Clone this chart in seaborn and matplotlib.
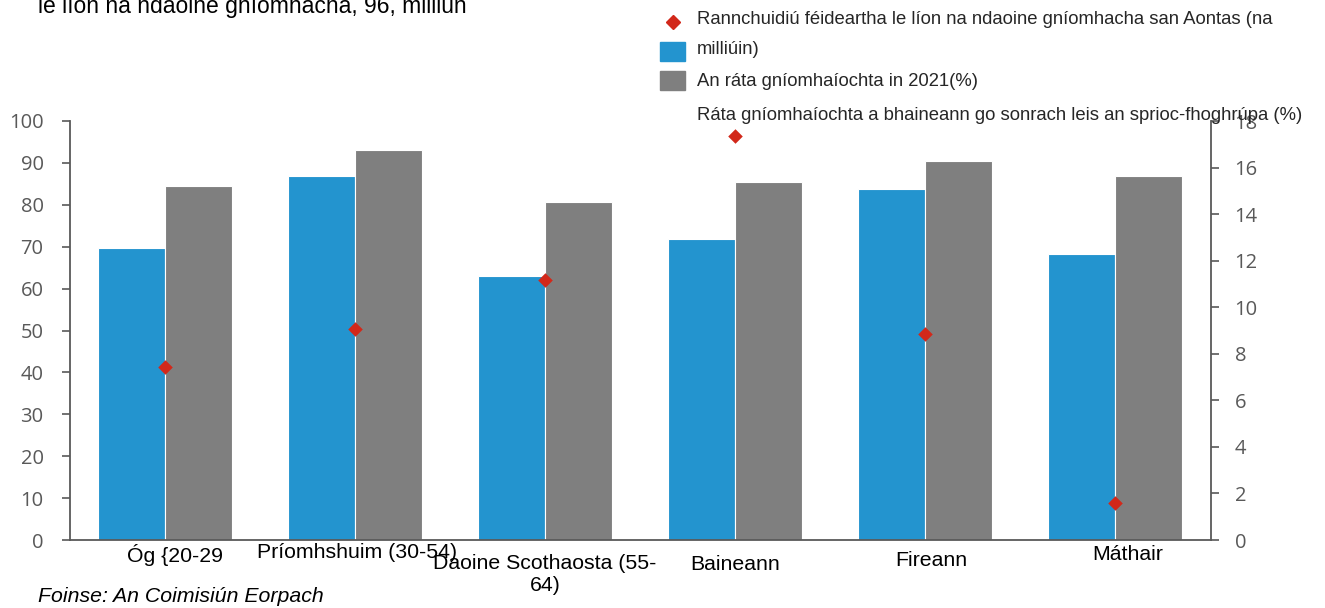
import numpy as np
import pandas as pd
import matplotlib
matplotlib.use("Agg")
import matplotlib.pyplot as plt
from matplotlib.patches import Rectangle
from matplotlib.lines import Line2D
import matplotlib.transforms as mtransforms
import seaborn as sns

categories = ["Óg {20-29", "Príomhshuim (30-54)", "Daoine Scothaosta (55-\n64)",
              "Baineann", "Fireann", "Máthair"]
rate_target = [69.7, 86.9, 63.0, 71.8, 83.8, 68.3]      # blue
rate_2021 = [84.5, 93.1, 80.7, 85.4, 90.5, 86.9]        # gray
contribution = [7.43, 9.06, 11.17, 17.35, 8.85, 1.59]   # red diamonds (right axis)

label_target = "Ráta gníomhaíochta a bhaineann go sonrach leis an sprioc-fhoghrúpa (%)"
label_2021 = "An ráta gníomhaíochta in 2021(%)"
label_contrib = "Rannchuidiú féideartha le líon na ndaoine gníomhacha san Aontas (na"
label_contrib2 = "milliúin)"
title_text = "le líon na ndaoine gníomhacha, 96, milliún"
source_text = "Foinse: An Coimisiún Eorpach"

BLUE = "#2394CF"
GRAY = "#7F7F7F"
RED = "#D2281A"
AXC = "#595959"

sns.set_theme(style="white")
plt.rcParams["font.family"] = ["Liberation Sans", "DejaVu Sans"]

df = pd.DataFrame({
    "cat": categories * 2,
    "val": rate_target + rate_2021,
    "series": ["target"] * len(categories) + ["2021"] * len(categories),
})

fig = plt.figure(figsize=(13.25, 6.08), dpi=100)
ax = fig.add_axes([70 / 1325, 1 - 540 / 608, (1211 - 70) / 1325, (540 - 121) / 608])

sns.barplot(data=df, x="cat", y="val", hue="series", order=categories,
            palette={"target": BLUE, "2021": GRAY}, width=0.706, saturation=1,
            edgecolor="white", linewidth=0.8, legend=False, ax=ax)

ax.set_ylim(0, 100)
ax.set_xlim(-0.5, 5.505)
ax.set_yticks(np.arange(0, 101, 10))
ax.set_xlabel("")
ax.set_ylabel("")
ax.set_xticks(range(len(categories)))
ax.set_xticklabels([])
ax.tick_params(axis="x", length=0)
ax.tick_params(axis="y", direction="out", length=6, width=1.2, color=AXC, labelcolor=AXC,
               labelsize=14.5, pad=13)
for lab in ax.get_yticklabels():
    lab.set_fontfamily(["Open Sans", "DejaVu Sans"])
for s in ["top", "right"]:
    ax.spines[s].set_visible(False)
for s in ["left", "bottom"]:
    ax.spines[s].set_color(AXC)
    ax.spines[s].set_linewidth(1.3)

ax2 = ax.twinx()
sns.scatterplot(x=np.arange(len(categories)), y=contribution, marker="D", s=55,
                color=RED, edgecolor=RED, linewidth=0, ax=ax2, zorder=5)
ax2.set_ylim(0, 18)
ax2.set_xlim(-0.5, 5.505)
ax2.set_yticks(np.arange(0, 19, 2))
ax2.tick_params(axis="y", direction="out", length=6, width=1.2, color=AXC, labelcolor=AXC,
                labelsize=14.5, pad=11, right=True)
for lab in ax2.get_yticklabels():
    lab.set_fontfamily(["Open Sans", "DejaVu Sans"])
for s in ["top", "left", "bottom"]:
    ax2.spines[s].set_visible(False)
ax2.spines["right"].set_color(AXC)
ax2.spines["right"].set_linewidth(1.3)

# category labels (irregular offsets as in the reference)
trans = mtransforms.blended_transform_factory(ax.transData, fig.transFigure)
label_dx = [0.053, 0.01, 0.0, 0.0, 0.032, 0.068]
label_y = [555, 553, 574.5, 565, 560, 555]
for i, (c, dx, yy) in enumerate(zip(categories, label_dx, label_y)):
    ax.text(i + dx, 1 - yy / 608, c, transform=trans, ha="center", va="center",
            fontsize=15.3, color="black", linespacing=1.15, multialignment="center")

# title fragment and source
fig.text(38 / 1325, 1 - 13 / 608, title_text, fontsize=16.5, color="black",
         va="baseline", ha="left")
fig.text(38 / 1325, 1 - 597 / 608, source_text, fontsize=15.3, color="black", va="center",
         ha="left", style="italic")

# manual legend
fig.add_artist(Line2D([673 / 1325], [1 - 22 / 608], marker="D", color=RED, markersize=7,
                      linestyle="none", transform=fig.transFigure))
fig.text(697 / 1325, 1 - 20 / 608, label_contrib, fontsize=13.3, va="center", ha="left")
fig.add_artist(Rectangle((660 / 1325, 1 - 61 / 608), 25 / 1325, 19 / 608, color=BLUE,
                         transform=fig.transFigure))
fig.text(697 / 1325, 1 - 50 / 608, label_contrib2, fontsize=13.3, va="center", ha="left")
fig.add_artist(Rectangle((660 / 1325, 1 - 90 / 608), 25 / 1325, 19 / 608, color=GRAY,
                         transform=fig.transFigure))
fig.text(697 / 1325, 1 - 81 / 608, label_2021, fontsize=13.3, va="center", ha="left")
fig.text(697 / 1325, 1 - 116 / 608, label_target, fontsize=13.3, va="center", ha="left")

fig.savefig("out.png", dpi=100)
